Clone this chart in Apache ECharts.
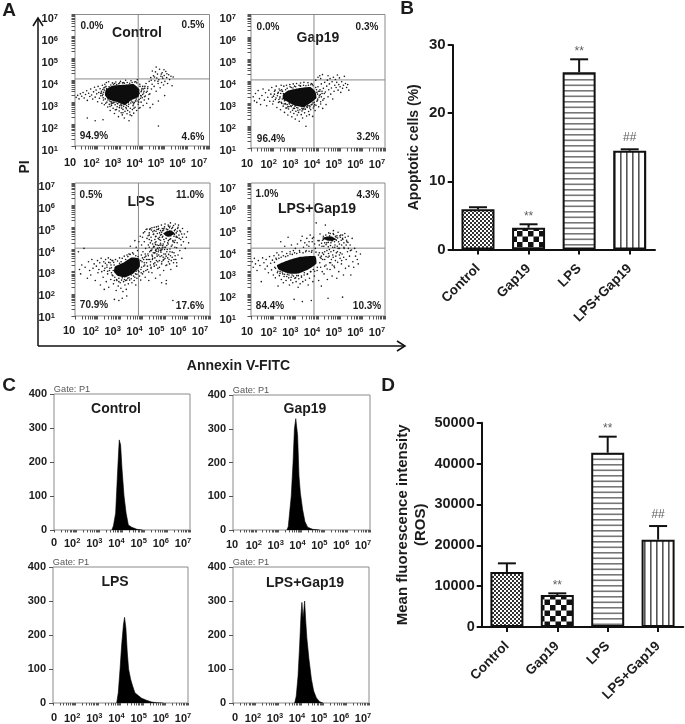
<!DOCTYPE html>
<html><head><meta charset="utf-8">
<style>html,body{margin:0;padding:0;background:#fff}#c{width:685px;height:724px}</style>
<script src="https://cdn.jsdelivr.net/npm/echarts@6/dist/echarts.min.js"></script>
</head><body><div id="c"></div>
<script>
// ---------- DATA (flow cytometry positions are log10 values) ----------
const groups = ['Control','Gap19','LPS','LPS+Gap19'];
const apoptosisMean = [5.9,3.2,26,14.5];
const apoptosisTop = [6.2,3.7,27.9,14.7];
const rosMean = [13460,7830,42660,21370];
const rosTop = [15580,8240,46580,24710];
const marks = ['','**','**','##'];
const quadControl = ['0.0%','0.5%','94.9%','4.6%'];
const quadGap = ['0.0%','0.3%','96.4%','3.2%'];
const quadLps = ['0.5%','11.0%','70.9%','17.6%'];
const quadLpsGap = ['1.0%','4.3%','84.4%','10.3%'];
const histExpControl = [3.55,3.62,3.72,3.79,3.85,3.88,3.94,4.0,4.09,4.18,4.28,4.43,4.66,4.9];
const histCountControl = [0,12,50,150,230,265,250,180,100,50,15,8,2,0];
const histExpGap = [3.36,3.42,3.55,3.63,3.69,3.75,3.83,3.89,3.95,4.05,4.15,4.27,4.49,4.8];
const histCountGap = [0,10,100,200,300,330,280,160,110,60,25,8,2,0];
const histExpLps = [3.83,3.9,3.98,4.05,4.13,4.18,4.24,4.3,4.36,4.45,4.54,4.64,4.79,4.94,5.16,5.38,5.61,5.9];
const histCountLps = [0,30,100,170,230,252,220,150,100,70,50,30,22,14,8,3,1,0];
const histExpLpsGap = [3.72,3.79,3.87,3.94,4.0,4.04,4.09,4.12,4.16,4.21,4.26,4.35,4.46,4.56,4.68,4.82,4.97];
const histCountLpsGap = [0,20,80,170,260,296,250,270,300,240,190,130,70,35,15,4,0];
const quadX = 3.82, quadY = 4.06;
const coreControl = [2.37,3.56,2.63,3.74,3.15,3.79,3.6,3.83,3.87,3.59,3.84,3.25,3.52,3.1,3.22,2.87,2.85,3.02,2.48,3.13,2.34,3.33];
const coreGap = [2.43,3.4,2.69,3.59,3.13,3.69,3.66,3.74,3.88,3.54,3.93,3.25,3.66,3.02,3.36,2.84,2.99,2.9,2.69,3.05,2.43,3.2];
const coreLps = [2.77,3.22,3.14,3.4,3.51,3.64,3.85,3.59,3.88,3.22,3.59,2.92,3.21,2.74,2.92,2.8,2.74,2.99];
const coreLpsHigh = [4.92,4.72,5.22,4.87,5.44,4.72,5.15,4.57];
const coreLpsGap = [2.16,3.29,2.61,3.49,3.21,3.67,3.88,3.7,3.93,3.37,3.58,3.11,3.13,2.92,2.69,2.92,2.24,3.1];
const coreLpsGapHigh = [4.18,4.52,4.55,4.6,4.85,4.45,4.48,4.39];
const dotsControl = [1.05,3.22,1.12,3.31,1.18,3.15,1.24,3.38,1.3,3.27,1.36,3.44,1.41,3.19,1.47,3.35,1.52,3.52,1.55,3.08,1.61,3.41,1.66,3.26,1.7,3.6,1.74,3.33,1.79,3.14,1.83,3.47,1.87,3.68,1.9,3.23,1.94,3.55,1.97,3.38,2.01,3.02,2.03,3.72,2.06,3.44,2.09,3.18,2.12,3.61,2.15,3.29,2.18,3.5,2.2,2.95,2.22,3.77,2.25,3.36,2.27,3.1,2.29,3.65,2.31,2.88,2.33,3.82,2.37,2.95,2.4,3.9,2.42,3.0,2.46,2.78,2.5,3.93,2.53,2.9,2.57,2.62,2.6,3.02,2.63,2.85,2.67,3.88,2.7,2.72,2.73,2.97,2.76,2.48,2.79,2.88,2.82,3.92,2.85,2.66,2.88,2.79,2.91,2.93,2.94,2.34,2.97,2.6,3.0,2.84,3.03,3.95,3.06,2.52,3.08,2.73,3.11,2.42,3.14,2.67,3.17,2.81,3.2,2.28,3.23,2.58,3.26,4.0,3.29,2.7,3.32,2.47,3.35,2.62,3.38,2.8,3.41,2.15,3.44,2.55,3.47,2.72,3.5,3.98,3.53,2.38,3.56,2.66,3.59,2.84,3.62,2.5,3.65,2.98,3.68,2.77,3.72,3.05,3.75,2.62,3.78,4.02,3.82,2.9,3.86,3.12,3.9,2.75,3.93,3.3,3.95,3.0,3.97,3.55,4.0,3.2,4.02,3.72,4.04,2.85,4.06,3.42,4.09,3.1,4.11,3.63,4.14,3.28,4.17,3.85,4.2,2.95,4.22,3.5,4.25,3.7,4.28,3.15,4.31,3.95,4.34,3.38,4.38,4.12,4.41,3.6,4.44,3.82,4.47,2.9,4.5,4.2,4.53,3.72,4.56,3.98,4.59,4.38,4.62,3.5,4.65,4.1,4.68,4.28,4.71,3.85,4.74,4.02,4.77,4.5,4.8,3.66,4.83,4.18,4.86,3.9,4.89,4.34,4.92,4.08,4.95,3.78,4.98,4.22,5.01,3.95,5.05,4.4,5.09,4.12,5.13,3.85,5.18,4.25,5.22,4.03,5.28,4.18,5.33,3.75,5.38,4.15,5.0,3.3,4.72,3.05,4.35,2.75,1.55,2.28,1.9,2.15,2.25,2.2,4.72,1.91,4.45,4.42,4.62,4.6,4.85,4.28,4.97,4.48,4.4,4.0,4.55,4.15,4.7,3.95,4.9,4.15,5.1,4.3];
const haloControl = [2.28,3.45,3.12,3.88,2.55,3.05,3.71,3.93,2.41,3.62,3.95,3.48,2.72,3.82,3.38,2.98,2.22,3.3,3.05,2.9,3.89,3.82,2.6,3.78,3.58,3.0,2.31,3.55,2.95,3.84,4.02,3.35,2.48,3.22,3.33,3.9,2.83,3.01,3.66,3.92,2.38,3.72,3.92,3.18,2.68,2.95,3.44,3.86,2.26,3.2,3.02,3.0,3.99,3.62,2.52,3.7,3.25,2.92,2.77,3.85,3.81,3.05,2.35,3.15,3.55,3.9,2.89,2.94,3.17,3.9,4.08,3.5,2.44,3.58,3.73,3.14,2.64,3.0,3.4,2.9,2.19,3.42,2.99,3.88,3.86,3.4,2.57,3.28,3.3,2.85,3.9,3.72,2.74,3.0,2.33,3.68,3.61,2.92,2.86,3.8,3.96,3.28,2.47,3.1,3.2,3.86,4.05,3.6,2.62,2.92,3.49,2.96,2.24,3.58,3.08,2.84,3.84,3.0,2.93,3.06,3.69,3.05,2.39,3.3,3.76,3.88,2.7,3.08,3.52,3.05,2.15,3.4,2.98,2.75,3.27,2.76,3.63,2.72,2.8,2.65,3.14,2.52,3.46,2.42,2.56,2.8,3.85,2.72,4.1,3.25,4.18,3.45,4.12,3.72,4.24,3.62,4.3,3.35];
const dotsGap = [1.1,3.3,1.15,3.12,1.2,3.45,1.26,3.05,1.32,3.58,1.38,3.22,1.43,2.95,1.49,3.36,1.54,3.65,1.6,3.15,1.65,3.48,1.7,2.9,1.75,3.28,1.8,3.6,1.84,3.1,1.89,3.42,1.93,3.72,1.97,2.98,2.01,3.33,2.05,3.55,2.09,3.18,2.13,3.78,2.16,2.82,2.2,3.45,2.23,3.05,2.26,3.65,2.29,3.25,2.32,2.72,2.35,3.82,2.38,3.0,2.41,3.55,2.44,2.88,2.47,3.78,2.5,2.6,2.53,3.0,2.56,2.8,2.59,3.82,2.62,2.95,2.65,2.48,2.68,2.75,2.71,3.02,2.74,3.85,2.77,2.62,2.8,2.86,2.83,2.4,2.86,2.7,2.89,3.88,2.92,2.55,2.95,2.78,2.98,2.3,3.01,2.65,3.04,3.9,3.07,2.48,3.1,2.8,3.13,2.6,3.16,2.2,3.19,2.72,3.22,3.92,3.25,2.5,3.28,2.66,3.31,2.35,3.34,2.78,3.37,3.95,3.4,2.58,3.43,2.74,3.46,1.98,3.49,2.44,3.52,2.82,3.55,3.93,3.58,2.64,3.61,2.5,3.64,2.88,3.67,2.72,3.7,3.9,3.73,2.95,3.76,2.42,3.79,2.8,3.83,3.05,3.87,2.68,3.91,2.92,3.95,3.5,3.98,3.15,4.0,3.75,4.03,2.85,4.06,3.35,4.09,3.62,4.12,3.08,4.15,3.88,4.18,3.45,4.21,2.78,4.24,3.68,4.27,3.22,4.3,3.95,4.33,3.52,4.36,2.95,4.39,3.78,4.42,4.05,4.45,3.3,4.48,3.62,4.51,3.88,4.54,4.12,4.57,3.42,4.6,3.7,4.63,3.98,4.66,3.2,4.69,4.18,4.72,3.55,4.75,3.82,4.78,4.08,4.81,3.72,4.84,3.95,4.87,4.28,4.9,3.6,4.93,3.85,4.96,4.15,4.99,3.75,5.02,3.5,5.06,3.98,5.1,3.68,5.14,3.82,5.18,4.22,5.23,3.9,5.28,3.72,5.33,3.85,5.38,3.6,4.0,4.18,4.08,4.25,4.2,4.3,3.9,4.05,4.12,4.12,4.45,4.25];
const haloGap = [2.3,3.3,3.15,3.82,2.55,2.98,3.75,3.86,2.4,3.55,3.98,3.42,2.75,3.75,3.4,2.85,2.25,3.18,3.05,2.82,3.9,3.72,2.62,3.68,3.6,2.9,2.33,3.45,2.95,3.78,4.05,3.28,2.5,3.12,3.35,3.82,2.85,2.92,3.68,3.84,2.37,3.62,3.95,3.1,2.7,2.86,3.46,3.8,2.28,3.08,3.02,2.92,4.02,3.55,2.55,3.62,3.28,2.78,2.8,3.72,3.85,2.95,2.36,3.05,3.57,3.82,2.9,2.78,3.2,3.8,4.1,3.4,2.45,3.45,3.77,3.02,2.65,2.85,3.42,2.75,2.18,3.35,3.0,3.75,3.88,3.25,2.58,3.15,3.32,2.72,3.93,3.62,2.78,2.9,2.3,3.58,3.63,2.8,2.88,3.7,3.99,3.2,2.48,2.98,3.22,3.78,4.08,3.55,2.6,2.8,3.5,2.86,2.22,3.5,3.1,2.7,3.82,2.88,2.97,2.88,3.7,2.95,2.4,3.2,3.78,3.8,2.72,2.98,3.54,2.9,2.12,3.25,4.15,3.3,4.22,3.15,4.18,3.55,4.28,3.45,4.12,2.98,2.05,3.42,2.0,3.1,1.95,3.28,2.08,3.6];
const dotsLps = [1.15,3.9,1.2,3.1,1.25,2.9,1.3,3.3,1.4,4.05,1.45,3.2,1.55,2.7,1.6,3.45,1.65,3.05,1.7,2.85,1.75,3.55,1.8,3.15,1.85,3.35,1.9,2.6,1.95,3.25,2.0,3.5,2.02,2.95,2.06,3.1,2.1,3.4,2.13,2.4,2.16,3.6,2.19,3.0,2.22,3.25,2.25,2.75,2.28,3.45,2.3,2.2,2.33,3.15,2.36,3.55,2.39,2.55,2.42,3.3,2.45,2.9,2.48,3.62,2.5,2.3,2.53,3.05,2.56,3.4,2.59,2.65,2.62,3.18,2.65,2.85,2.68,3.5,2.71,2.45,2.74,3.3,2.77,2.75,2.8,3.55,2.83,2.15,2.86,2.6,2.89,3.48,2.92,2.35,2.95,2.7,2.98,3.62,3.01,2.5,3.04,2.25,3.07,2.62,3.1,3.6,3.13,2.1,3.16,2.55,3.19,3.7,3.22,2.4,3.25,2.6,3.28,2.2,3.31,3.75,3.34,2.7,3.37,2.45,3.4,3.8,3.43,2.62,3.46,4.15,3.5,2.85,3.53,2.5,3.56,3.85,3.6,2.8,3.63,2.6,3.66,4.4,3.69,2.9,3.72,4.1,3.75,2.7,3.78,3.95,3.81,3.05,3.84,4.35,3.87,2.8,3.9,4.6,3.93,3.1,3.96,4.2,3.98,3.45,4.0,2.9,4.02,3.9,4.04,4.75,4.06,3.25,4.08,4.35,4.1,3.65,4.12,2.75,4.14,4.05,4.16,4.9,4.18,3.4,4.2,4.5,4.22,3.1,4.24,3.8,4.26,4.2,4.28,2.6,4.3,4.65,4.32,3.55,4.34,4.95,4.36,3.95,4.38,3.2,4.4,4.4,4.42,2.95,4.44,3.7,4.46,4.8,4.48,4.1,4.5,3.35,4.52,5.0,4.54,3.85,4.56,4.3,4.58,2.7,4.6,4.6,4.62,3.5,4.64,4.9,4.66,4.05,4.68,3.15,4.7,5.05,4.72,3.75,4.74,4.45,4.76,4.75,4.78,2.85,4.8,3.95,4.82,4.2,4.84,5.1,4.86,3.45,4.88,4.55,4.9,4.85,4.92,3.65,4.94,3.05,4.96,4.1,4.98,4.35,5.0,5.15,5.02,3.8,5.04,4.65,5.06,2.6,5.08,3.3,5.1,4.0,5.12,4.9,5.14,4.25,5.16,5.05,5.18,3.55,5.2,4.45,5.22,3.9,5.24,5.2,5.26,3.1,5.28,4.15,5.3,4.7,5.32,3.65,5.34,5.0,5.36,4.35,5.38,3.4,5.4,3.85,5.42,4.85,5.44,4.1,5.46,5.15,5.48,3.55,5.5,4.6,5.52,3.25,5.54,4.3,5.56,4.95,5.58,3.75,5.6,5.1,5.63,4.5,5.66,3.95,5.69,4.8,5.72,4.2,5.75,3.6,5.78,4.95,5.82,4.35,5.86,4.7,5.9,4.05,5.95,4.55,6.0,4.8,6.05,4.3,4.0,4.55,4.1,4.8,4.2,4.92,4.3,4.75,4.4,4.88,4.5,4.7,4.6,4.82,4.7,4.9,4.8,4.65,4.85,4.78,4.95,4.95,5.05,4.78,5.1,4.62,5.2,4.98,5.3,4.82,5.4,4.6,5.5,4.75,5.55,4.55,4.3,4.1,4.4,3.95,4.5,4.15,4.55,3.85,4.6,4.0,4.65,4.2,4.7,3.9,4.75,4.08,4.8,4.28,4.85,3.98,4.9,4.18,4.45,3.6,4.55,3.4,4.65,3.7,4.75,3.5,4.85,3.72,4.95,3.55,5.05,3.7,5.15,3.45,4.1,3.3,4.15,3.05,4.25,3.55,4.35,3.3,3.95,3.75,4.05,3.55,4.15,3.7,3.92,2.62,3.7,2.4,3.3,1.9,2.75,1.75,2.95,1.7,3.1,1.8,4.85,2.5,5.05,2.45,5.35,1.7];
const haloLps = [2.6,3.3,2.5,3.42,2.65,3.5,2.42,3.2,2.55,3.15,2.7,3.05,2.35,3.38,2.62,2.95,2.45,3.02,2.68,2.82,2.58,3.55,2.72,3.42,2.3,3.05,2.75,2.6,2.85,2.65,2.95,2.55,3.05,3.45,2.98,3.38,3.1,2.72,3.2,2.65,3.3,2.62,3.4,2.72,3.5,2.68,3.25,3.55,3.35,3.68,3.45,3.78,3.6,3.8,3.7,3.72,3.8,3.68,3.92,3.5,3.96,3.2,4.0,3.62,4.05,3.0,4.08,3.4,3.94,2.95,3.72,3.02,3.66,2.75,3.75,2.88,3.84,3.0,4.12,3.8,4.18,3.55,4.22,3.25,4.26,3.72,4.28,2.98,4.32,3.9,4.36,3.45,4.38,3.15,4.42,3.75,4.44,3.55,4.48,3.85,4.52,3.25,4.55,3.62,4.58,3.95,4.62,3.3,4.64,3.8,4.68,3.45,4.72,3.98,4.75,3.2,4.78,3.68,4.82,3.88,4.85,3.35,4.88,4.02,4.92,3.52,4.95,3.8,5.0,3.6,5.04,3.28,5.08,3.9,5.12,3.62,5.16,3.78,5.2,3.35,5.24,3.72,5.28,3.5,5.32,3.88,5.4,3.55,5.45,3.72,5.52,3.4,4.25,4.62,4.32,4.9,4.38,4.55,4.42,4.98,4.48,4.68,4.52,4.85,4.58,4.58,4.62,5.02,4.66,4.72,4.72,4.95,4.76,4.55,4.8,4.85,4.84,4.68,4.88,4.95,4.9,4.6,4.94,4.88,4.98,5.02,5.02,4.7,5.06,4.92,5.1,4.82,5.14,5.1,5.18,4.7,5.22,5.05,5.26,4.62,5.3,4.95,5.34,4.75,5.38,5.08,5.42,4.68,5.46,4.9,5.5,4.55,5.54,4.82,5.58,5.0,5.62,4.65,5.66,4.85,5.7,4.45,5.74,4.7,5.78,4.55,4.95,4.45,5.05,4.5,5.15,4.4,5.25,4.48,5.35,4.4,5.45,4.42,4.6,4.35,4.7,4.5,4.8,4.42,4.35,4.3,4.45,4.25,4.55,4.45,4.3,4.45,4.42,4.02,4.52,4.12,4.62,3.92,4.72,4.18,4.82,4.02,4.92,4.25,5.02,4.1,5.12,4.3,5.22,4.02,5.32,4.2,5.42,4.32,5.52,4.08,4.58,4.22,4.68,4.05,4.78,4.2,4.88,4.1,4.98,4.0,5.08,4.18];
const dotsLpsGap = [1.05,3.45,1.1,3.2,1.15,3.6,1.2,3.35,1.27,3.05,1.33,3.5,1.4,3.28,1.46,2.55,1.52,3.62,1.58,3.4,1.63,3.12,1.68,3.55,1.73,3.25,1.78,2.95,1.83,3.68,1.88,3.38,1.92,3.08,1.96,3.52,2.0,2.85,2.03,3.72,2.06,3.2,2.09,2.72,2.12,3.6,2.16,3.85,2.18,2.95,2.21,2.35,2.24,3.75,2.27,2.82,2.3,3.0,2.33,4.35,2.36,2.65,2.39,3.9,2.42,2.9,2.45,2.5,2.48,2.78,2.51,4.15,2.54,3.0,2.57,2.6,2.6,3.82,2.63,2.88,2.66,4.55,2.69,2.72,2.72,2.4,2.75,3.9,2.78,2.62,2.81,4.2,2.84,2.85,2.87,2.5,2.9,3.95,2.93,1.75,2.96,2.7,2.99,4.05,3.02,2.55,3.05,2.82,3.08,4.25,3.11,2.3,3.14,2.68,3.17,3.95,3.2,2.45,3.23,4.4,3.26,2.75,3.29,4.6,3.32,2.55,3.35,4.1,3.38,2.85,3.41,4.3,3.44,2.62,3.47,3.95,3.5,4.5,3.53,2.9,3.56,2.4,3.59,4.15,3.62,2.7,3.65,4.65,3.68,3.0,3.71,3.88,3.74,4.35,3.77,2.55,3.8,4.55,3.84,2.8,3.88,4.05,3.92,5.2,3.96,3.05,4.0,4.4,4.03,2.6,4.06,3.85,4.09,4.7,4.12,3.2,4.15,2.35,4.18,4.15,4.21,3.55,4.24,4.6,4.27,2.9,4.3,3.9,4.33,5.1,4.36,3.3,4.39,4.3,4.42,2.65,4.45,3.65,4.48,4.75,4.51,4.0,4.54,3.1,4.57,3.4,4.6,4.4,4.63,2.8,4.66,3.75,4.69,4.85,4.72,3.25,4.75,4.1,4.78,3.5,4.81,4.55,4.84,2.7,4.87,3.9,4.9,4.78,4.93,3.0,4.96,4.25,4.99,3.6,5.02,4.65,5.05,3.35,5.08,3.8,5.11,4.45,5.14,2.85,5.17,4.05,5.2,4.72,5.23,3.15,5.26,3.55,5.29,4.35,5.32,3.9,5.35,4.6,5.38,3.25,5.41,3.7,5.44,4.2,5.47,2.85,5.5,3.98,5.53,4.5,5.56,3.45,5.6,3.2,5.64,4.05,5.68,3.7,5.72,3.9,5.76,3.55,5.8,3.35,5.9,3.8,4.1,3.65,4.2,3.85,4.3,3.55,4.4,3.95,4.5,3.7,4.6,3.55,4.7,3.95,4.8,3.7,4.9,4.05,5.0,3.85,4.05,4.4,4.25,4.45,4.4,4.55,4.55,4.72,4.7,4.68,4.85,4.62,5.0,4.55,5.1,4.65,4.65,4.4,4.35,4.65,4.15,3.7,3.7,1.7,3.3,1.65,4.45,1.8,5.1,1.85];
const haloLpsGap = [2.05,3.42,2.1,3.15,2.14,3.55,2.2,3.02,2.25,3.6,2.3,2.92,2.35,3.65,2.4,2.98,2.45,3.72,2.5,2.88,2.55,3.68,2.6,2.78,2.65,3.72,2.7,2.85,2.75,3.8,2.8,2.75,2.85,3.78,2.9,2.8,2.95,3.85,3.0,2.72,3.05,3.82,3.12,2.82,3.18,3.88,3.26,2.8,3.33,3.85,3.39,2.95,3.45,3.9,3.52,2.88,3.6,3.92,3.66,3.0,3.73,3.95,3.79,3.1,3.85,3.02,3.91,3.88,3.97,3.2,4.02,3.75,4.08,3.4,4.14,3.6,4.19,3.0,4.25,3.78,4.3,3.25,4.36,3.68,4.41,3.12,4.47,3.82,4.52,3.4,4.58,3.9,4.64,3.3,4.68,3.65,4.74,3.18,4.82,3.85,4.88,3.42,4.96,3.75,5.06,3.5,5.15,3.65,4.2,4.42,4.3,4.3,4.38,4.48,4.46,4.32,4.52,4.62,4.58,4.3,4.62,4.55,4.68,4.72,4.74,4.35,4.78,4.6,4.82,4.42,4.88,4.52,4.92,4.35,4.98,4.62,5.04,4.42,5.1,4.5,5.16,4.3,5.22,4.55,5.28,4.42,5.34,4.32,4.06,4.2,4.16,4.28,4.26,4.15,4.36,4.22,4.46,4.12,4.56,4.18,4.66,4.1,4.76,4.2,4.86,4.15,4.96,4.05,5.06,4.2,5.16,4.1,5.26,4.2,5.36,4.05,5.45,3.95,3.6,4.35,3.75,4.5,3.85,4.25,3.5,4.2];

// ---------- helpers ----------
const toPairs = f => { const o=[]; for(let i=0;i<f.length;i+=2) o.push([f[i],f[i+1]]); return o; };
const decadeTicks = []; for(let d=1;d<7;d++) for(let m=1;m<10;m++) decadeTicks.push(d+Math.log10(m)); decadeTicks.push(7);
const grids=[],xAxes=[],yAxes=[],series=[],graphic=[];
const FF='Arial,"Liberation Sans",sans-serif', DARK='#1c1c1c', GREY='#8a8a8a';
const txt=(x,y,s,size,opt={})=>graphic.push({type:'text',x,y,rotation:opt.rot||0,silent:true,style:{text:s,font:`${opt.weight||'bold'} ${size}px ${FF}`,fill:opt.fill||DARK,textAlign:'center',textVerticalAlign:'middle'}});
const expFmt = zero => v => (v===1 ? (zero?'{z|0}':'{b|10}') : `{b|10}{s|${v}}`);
const rich = {b:{fontFamily:FF,fontWeight:'bold',fontSize:11,color:DARK},s:{fontFamily:FF,fontWeight:'bold',fontSize:7.5,color:DARK,padding:[0,0,5,0]},z:{fontFamily:FF,fontWeight:'bold',fontSize:11,color:DARK,padding:[0,0,0,8]}};
const hidden = {axisLine:{show:false},axisTick:{show:false},splitLine:{show:false}};
function addGrid(l,t,r,b,show){ grids.push({left:l,top:t,width:r-l,height:b-t,show:!!show,borderColor:GREY,borderWidth:1,backgroundColor:'transparent'}); return grids.length-1; }
function labelGrid(l,r,t,b,xm,ym,zero,yLabels){
  const g=addGrid(l,t,r,b);
  xAxes.push({gridIndex:g,type:'value',min:1,max:7,interval:1,...hidden,axisLabel:{margin:xm,formatter:expFmt(zero),rich,hideOverlap:false}});
  yAxes.push({gridIndex:g,type:'value',min:1,max:7,interval:1,...hidden,axisLabel:{show:yLabels,margin:ym,formatter:v=>`{b|10}{s|${v}}`,rich}});
}
function dotPlot(p,lab,dots,cores,quad,title,titlePos,pos){
  const g=addGrid(p[0],p[1],p[2],p[3],true);
  const ax=xAxes.length, ay=yAxes.length;
  xAxes.push({gridIndex:g,type:'value',min:1,max:7,interval:1,axisLine:{show:false},splitLine:{show:false},axisLabel:{show:false},axisTick:{show:true,customValues:decadeTicks,length:3.5,lineStyle:{color:'#555',width:1}}});
  yAxes.push({gridIndex:g,type:'value',min:1,max:7,interval:1,axisLine:{show:false},splitLine:{show:false},axisLabel:{show:false},axisTick:{show:true,customValues:decadeTicks,length:3.5,lineStyle:{color:'#555',width:1}}});
  const base={xAxisIndex:ax,yAxisIndex:ay};
  series.push({...base,type:'line',data:[[quadX,1],[quadX,7]],symbol:'none',lineStyle:{color:GREY,width:1},silent:true,z:1});
  series.push({...base,type:'line',data:[[1,quadY],[7,quadY]],symbol:'none',lineStyle:{color:GREY,width:1},silent:true,z:1});
  dots.forEach(d=>series.push({...base,type:'scatter',data:toPairs(d),symbol:'circle',symbolSize:1.6,itemStyle:{color:'#1a1a1a',opacity:1},silent:true,z:3}));
  cores.forEach(c=>series.push({...base,type:'custom',data:toPairs(c),silent:true,z:4,encode:{x:0,y:1},
    renderItem:(pm,api)=>pm.dataIndex!==0?null:{type:'polygon',shape:{points:toPairs(c).map(q=>api.coord(q)),smooth:0.15},style:{fill:'#0d0d0d'}}}));
  labelGrid(lab[0],lab[1],lab[2],lab[3],lab[4],lab[5],false,true);
  txt(titlePos[0],titlePos[1],title,14);
  quad.forEach((q,i)=>txt(pos[i][0],pos[i][1],q,10));
}
function histPlot(p,lab,ex,cn,title,titlePos,zero){
  const g=addGrid(p[0],p[1],p[2],p[3],true);
  const ax=xAxes.length, ay=yAxes.length;
  xAxes.push({gridIndex:g,type:'value',min:1,max:7,interval:1,axisLine:{show:false},splitLine:{show:false},axisLabel:{show:false},axisTick:{show:true,customValues:decadeTicks,length:2.5,lineStyle:{color:'#555',width:1}}});
  yAxes.push({gridIndex:g,type:'value',min:0,max:400,interval:100,axisLine:{show:false},splitLine:{show:false},axisTick:{show:true,length:4,lineStyle:{color:'#555',width:1}},axisLabel:{margin:7,fontFamily:FF,fontWeight:'bold',fontSize:11,color:DARK}});
  series.push({xAxisIndex:ax,yAxisIndex:ay,type:'line',data:ex.map((e,i)=>[e,cn[i]]),symbol:'none',lineStyle:{color:'#000',width:0.6},areaStyle:{color:'#000',opacity:1},silent:true});
  labelGrid(lab[0],lab[1],p[1],p[3],lab[2],0,zero,false);
  txt(titlePos[0],titlePos[1],title,14);
  txt(p[0]+18,p[1]-5,'Gate: P1',9.2,{weight:'normal',fill:'#555'});
}
function pat(size,draw){ const c=document.createElement('canvas'); c.width=c.height=size; const x=c.getContext('2d'); x.fillStyle='#fff'; x.fillRect(0,0,size,size); draw(x); return {image:c,repeat:'repeat'}; }
const patterns=[
  pat(4,x=>{x.fillStyle='#333';x.fillRect(0,0,2,2);x.fillRect(2,2,2,2);}),
  pat(11,x=>{x.fillStyle='#111';x.fillRect(0,0,5.5,5.5);x.fillRect(5.5,5.5,5.5,5.5);}),
  pat(11,x=>{x.fillStyle='#777';x.fillRect(0,2,11,1.6);x.fillRect(0,7.5,11,1.6);}),
  pat(6,x=>{x.fillStyle='#555';x.fillRect(2,0,1.6,6);})
];
function barPlot(l,t,r,b,mean,top,max,interval,name,nameGap,nameSize,yFont,labelDist,catMargin){
  const g=addGrid(l,t,r,b);
  const ax=xAxes.length, ay=yAxes.length;
  const line={lineStyle:{color:'#111',width:2}};
  xAxes.push({gridIndex:g,type:'category',data:groups,axisLine:{show:true,...line},axisTick:{show:true,alignWithLabel:true,length:5,...line},
    axisLabel:{interval:0,rotate:45,margin:catMargin,fontFamily:FF,fontWeight:'bold',fontSize:13.5,color:DARK}});
  yAxes.push({gridIndex:g,type:'value',min:0,max,interval,splitLine:{show:false},axisLine:{show:true,...line},axisTick:{show:true,length:5,...line},
    axisLabel:{margin:7,fontFamily:FF,fontWeight:'bold',fontSize:yFont,color:DARK,formatter:v=>String(v)},
    name,nameLocation:'middle',nameGap,nameRotate:90,nameTextStyle:{fontFamily:FF,fontWeight:'bold',fontSize:nameSize,color:DARK,lineHeight:18}});
  series.push({xAxisIndex:ax,yAxisIndex:ay,type:'bar',barWidth:33,data:mean.map((v,i)=>({value:v,itemStyle:{color:patterns[i],borderColor:'#111',borderWidth:2}})),silent:true,z:3});
  series.push({xAxisIndex:ax,yAxisIndex:ay,type:'custom',data:top.map((v,i)=>[i,mean[i],v]),encode:{x:0,y:[1,2]},silent:true,z:4,
    renderItem:(pm,api)=>{const a=api.coord([api.value(0),api.value(1)]),c=api.coord([api.value(0),api.value(2)]);
      return {type:'group',children:[
        {type:'line',shape:{x1:a[0],y1:a[1],x2:c[0],y2:c[1]},style:{stroke:'#111',lineWidth:2}},
        {type:'line',shape:{x1:c[0]-9,y1:c[1],x2:c[0]+9,y2:c[1]},style:{stroke:'#111',lineWidth:2}}]};}});
  series.push({xAxisIndex:ax,yAxisIndex:ay,type:'scatter',symbol:'circle',symbolSize:1,itemStyle:{color:'rgba(0,0,0,0)'},data:top.map((v,i)=>({value:[i,v],label:{show:!!marks[i],formatter:marks[i],position:'top',distance:marks[i]==='##'?labelDist+4:labelDist,fontFamily:FF,fontSize:12,color:'#333'}})),silent:true,z:5});
}

// ---------- panel A ----------
dotPlot([75,14.5,209.5,146],[70,199,19,151,6,12],[dotsControl,haloControl],[coreControl],quadControl,groups[0],[137,33],[[92,26],[193,25],[94,136],[193,137]]);
dotPlot([251,14.5,385,148],[247,377,19,151,7,11],[dotsGap,haloGap],[coreGap],quadGap,groups[1],[318,38],[[268,27],[367,27],[271,139],[368,137]]);
dotPlot([75,183,210,316],[69,200,187,318,7,14],[dotsLps,haloLps],[coreLps,coreLpsHigh],quadLps,groups[2],[141,202],[[91,195],[190,195],[94,305],[190,306]]);
dotPlot([251,183,385,316],[247,377,189,320,6,11],[dotsLpsGap,haloLpsGap],[coreLpsGap,coreLpsGapHigh],quadLpsGap,groups[3],[317,209],[[267,194],[368,195],[270,306],[367,306]]);

// ---------- panel C ----------
histPlot([54,394,190,530],[50,183,7],histExpControl,histCountControl,groups[0],[116,409],true);
histPlot([233,395,370,530],[232,363,9],histExpGap,histCountGap,groups[1],[305,409],false);
histPlot([53,567,188,703],[50,183,9],histExpLps,histCountLps,groups[2],[115,582],true);
histPlot([233,567,369,703],[231,363,9],histExpLpsGap,histCountLpsGap,groups[3],[305,583],true);

// ---------- panels B, D ----------
barPlot(452.7,45,655,249.5,apoptosisMean,apoptosisTop,30,10,'Apoptotic cells (%)',30,14,15,1,17);
barPlot(481.7,422.7,683.3,627,rosMean,rosTop,50000,10000,'Mean fluorescence intensity\n(ROS)',52,15,14.5,1,17);

// ---------- decoration ----------
const arrow=pts=>graphic.push({type:'polyline',silent:true,shape:{points:pts},style:{stroke:'#111',lineWidth:1.5,fill:null}});
arrow([[38,346],[38,18]]); arrow([[33,26],[38,18],[43,26]]);
arrow([[38,346],[405,346]]); arrow([[397,341],[405,346],[397,351]]);
txt(25,167,'PI',14,{rot:Math.PI/2});
txt(238.5,366,'Annexin V-FITC',14);
txt(9,11,'A',19); txt(407,9,'B',19); txt(9,386,'C',19); txt(388,386,'D',19);

echarts.init(document.getElementById('c'),null,{renderer:'canvas'}).setOption({animation:false,backgroundColor:'#fff',grid:grids,xAxis:xAxes,yAxis:yAxes,series,graphic:{elements:graphic}});
</script></body></html>
